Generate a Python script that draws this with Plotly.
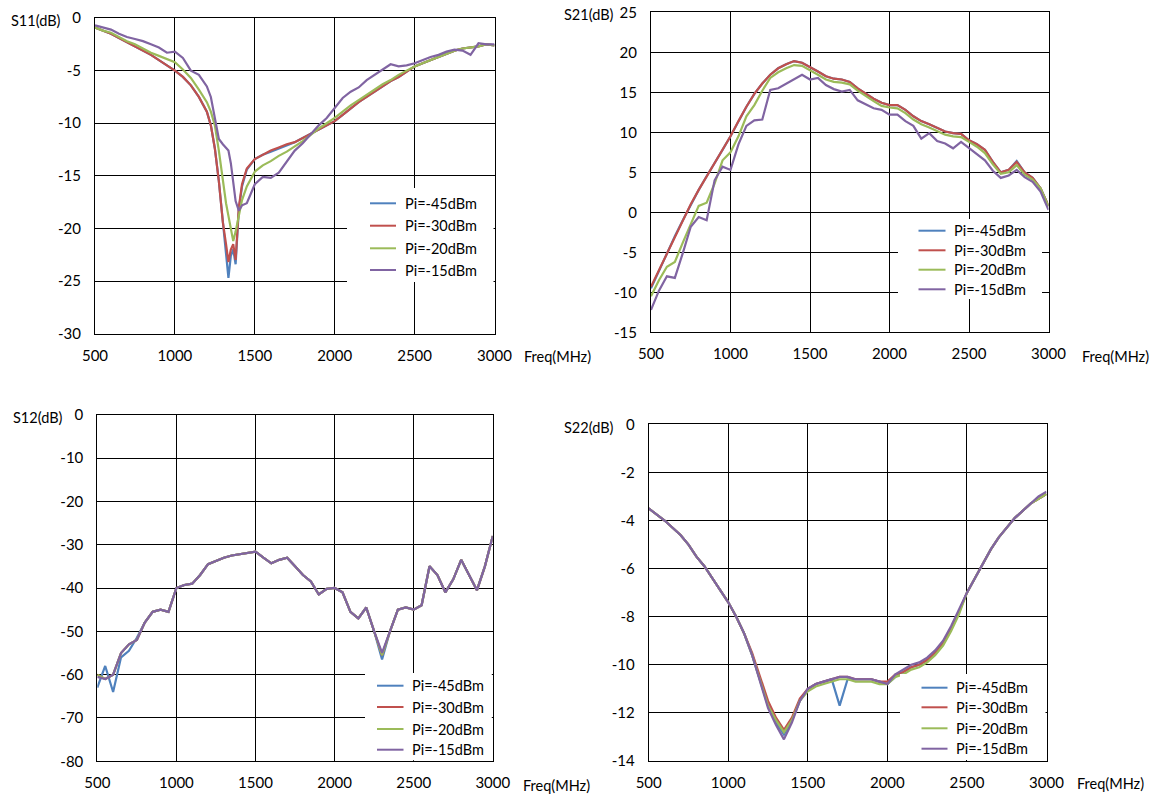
import plotly.graph_objects as go

W, H = 1156, 798
FONT = "Lato"

SERIES = ["Pi=-45dBm", "Pi=-30dBm", "Pi=-20dBm", "Pi=-15dBm"]
COLORS = ["#4F81BD", "#C0504D", "#9BBB59", "#8064A2"]

# ---------------- S11 ----------------
S11_FREQ = [500, 550, 600, 650, 700, 750, 800, 850, 900, 950,
            1000, 1050, 1100, 1150, 1200, 1225, 1250, 1275, 1300, 1320,
            1335, 1350, 1365, 1380, 1400, 1420, 1450, 1500, 1550, 1600,
            1650, 1700, 1750, 1800, 1850, 1900, 1950, 2000, 2050, 2100,
            2150, 2200, 2250, 2300, 2350, 2400, 2450, 2500, 2550, 2600,
            2650, 2700, 2750, 2800, 2850, 2900, 2950, 3000]
S11_P45 = [-0.9, -1.2, -1.5, -1.9, -2.3, -2.7, -3.1, -3.5, -4.0, -4.5,
           -5.0, -5.6, -6.4, -7.5, -8.9, -10.2, -12.4, -15.5, -19.4, -22.2,
           -24.7, -22.6, -22.0, -23.4, -18.2, -16.0, -14.4, -13.4, -13.0, -12.7,
           -12.4, -12.1, -11.8, -11.4, -11.0, -10.6, -10.2, -9.8, -9.2, -8.6,
           -8.0, -7.5, -7.0, -6.5, -6.0, -5.6, -5.1, -4.6, -4.3, -4.0,
           -3.7, -3.4, -3.1, -2.9, -2.8, -2.7, -2.5, -2.6]
S11_P30 = [-0.9, -1.2, -1.5, -1.9, -2.3, -2.7, -3.1, -3.5, -4.0, -4.5,
           -5.0, -5.6, -6.4, -7.5, -8.9, -10.2, -12.4, -15.5, -19.4, -21.5,
           -23.2, -22.0, -21.5, -23.0, -18.0, -15.8, -14.3, -13.4, -13.0, -12.6,
           -12.3, -12.0, -11.8, -11.4, -11.0, -10.6, -10.2, -9.8, -9.2, -8.6,
           -8.0, -7.5, -7.0, -6.5, -6.0, -5.6, -5.1, -4.6, -4.3, -4.0,
           -3.7, -3.4, -3.1, -2.9, -2.8, -2.7, -2.5, -2.6]
S11_P20 = [-0.9, -1.2, -1.4, -1.8, -2.2, -2.5, -2.9, -3.3, -3.6, -3.9,
           -4.2, -4.9, -5.7, -6.8, -8.0, -8.9, -10.2, -12.6, -15.5, -17.6,
           -18.8, -20.0, -21.2, -20.3, -18.6, -17.3, -16.0, -14.6, -14.0, -13.6,
           -13.1, -12.7, -12.2, -11.7, -11.1, -10.5, -10.0, -9.5, -8.9, -8.3,
           -7.8, -7.3, -6.8, -6.3, -5.9, -5.4, -5.0, -4.6, -4.3, -4.0,
           -3.7, -3.4, -3.1, -2.9, -2.8, -2.7, -2.5, -2.6]
S11_P15 = [-0.7, -0.9, -1.1, -1.5, -1.8, -2.0, -2.2, -2.5, -2.8, -3.3,
           -3.2, -3.8, -5.0, -5.4, -6.5, -7.5, -9.6, -11.5, -12.0, -12.3,
           -12.6, -13.8, -15.5, -17.4, -18.3, -17.8, -17.6, -15.8, -15.1, -15.2,
           -14.7, -13.6, -12.6, -11.9, -11.0, -10.2, -9.5, -8.6, -7.6, -7.0,
           -6.6, -5.9, -5.4, -4.9, -4.4, -4.6, -4.5, -4.3, -4.0, -3.7,
           -3.5, -3.2, -3.0, -3.1, -3.5, -2.4, -2.5, -2.5]

# ---------------- S21 ----------------
S21_FREQ = list(range(500, 3001, 50))
S21_P45 = [-9.5, -7.3, -5.1, -3.0, -1.0, 1.0, 2.8, 4.5, 6.1, 7.8,
           9.5, 11.4, 13.2, 14.8, 16.1, 17.2, 18.0, 18.5, 18.9, 18.7,
           18.2, 17.6, 17.0, 16.7, 16.6, 16.3, 15.5, 14.8, 14.2, 13.7,
           13.4, 13.4, 12.8, 12.0, 11.4, 11.0, 10.6, 10.1, 9.9, 9.8,
           9.0, 8.5, 7.8, 6.3, 5.0, 5.3, 6.4, 5.0, 4.3, 3.0,
           0.8]
S21_P30 = [-9.3, -7.2, -5.1, -3.0, -1.0, 1.0, 2.8, 4.5, 6.1, 7.8,
           9.5, 11.4, 13.2, 14.8, 16.1, 17.2, 18.0, 18.5, 18.9, 18.7,
           18.2, 17.6, 17.0, 16.7, 16.6, 16.3, 15.5, 14.8, 14.2, 13.7,
           13.4, 13.4, 12.8, 12.0, 11.4, 11.0, 10.6, 10.1, 9.9, 9.8,
           9.0, 8.5, 7.8, 6.3, 5.0, 5.3, 6.3, 5.0, 4.3, 3.0,
           0.8]
S21_P20 = [-10.5, -8.5, -6.8, -6.2, -3.8, -1.5, 0.8, 1.2, 3.6, 6.5,
           7.5, 9.5, 12.0, 13.4, 15.2, 16.8, 17.5, 18.0, 18.4, 18.3,
           17.8, 17.2, 16.6, 16.3, 16.2, 16.0, 15.2, 14.5, 13.9, 13.3,
           13.1, 13.0, 12.4, 11.6, 11.0, 10.6, 10.2, 9.7, 9.5, 9.4,
           8.8, 8.2, 7.4, 6.0, 4.8, 5.0, 5.9, 4.7, 4.1, 3.0,
           0.7]
S21_P15 = [-12.2, -9.8, -8.0, -8.2, -5.1, -1.8, -0.6, -1.0, 4.0, 5.7,
           5.3, 8.5, 10.8, 11.5, 11.6, 15.3, 15.5, 16.1, 16.7, 17.2,
           16.6, 16.8, 15.9, 15.4, 15.1, 15.3, 14.0, 13.5, 13.0, 12.8,
           12.2, 12.2, 11.4, 10.8, 9.2, 9.9, 8.9, 8.6, 8.0, 8.8,
           8.0, 7.2, 6.5, 5.2, 4.3, 4.6, 5.3, 4.4, 3.8, 2.6,
           0.3]

# ---------------- S12 ----------------
S12_FREQ = list(range(500, 3001, 50))
S12_P45 = [-63.0, -58.0, -64.0, -56.0, -54.5, -51.5, -48.0, -45.5, -45.0, -45.5,
           -40.0, -39.3, -39.0, -37.0, -34.5, -33.8, -33.0, -32.5, -32.2, -31.8,
           -31.6, -33.0, -34.3, -33.5, -33.0, -35.0, -37.0, -38.5, -41.5, -40.2,
           -40.0, -41.0, -45.5, -47.0, -44.5, -50.0, -56.5, -50.0, -45.0, -44.5,
           -45.0, -44.0, -35.0, -37.0, -41.0, -38.0, -33.5, -37.0, -40.5, -35.0,
           -28.0]
S12_P30 = [-60.0, -61.0, -60.0, -55.0, -53.0, -52.0, -48.0, -45.5, -45.0, -45.5,
           -40.0, -39.3, -39.0, -37.0, -34.5, -33.8, -33.0, -32.5, -32.2, -31.8,
           -31.6, -33.0, -34.3, -33.5, -33.0, -35.0, -37.0, -38.5, -41.5, -40.2,
           -40.0, -41.0, -45.5, -47.0, -44.5, -50.0, -55.5, -50.0, -45.0, -44.5,
           -45.0, -44.0, -35.0, -37.0, -41.0, -38.0, -33.5, -37.0, -40.5, -35.0,
           -28.0]
S12_P20 = [-60.0, -61.0, -60.0, -55.0, -53.0, -52.0, -48.0, -45.5, -45.0, -45.5,
           -40.0, -39.3, -39.0, -37.0, -34.5, -33.8, -33.0, -32.5, -32.2, -31.8,
           -31.6, -33.0, -34.3, -33.5, -33.0, -35.0, -37.0, -38.5, -41.5, -40.2,
           -40.0, -41.0, -45.5, -47.0, -44.5, -50.0, -55.5, -50.0, -45.0, -44.5,
           -45.0, -44.0, -35.0, -37.0, -41.0, -38.0, -33.5, -37.0, -40.5, -35.0,
           -28.0]
S12_P15 = [-60.5, -61.0, -60.0, -55.0, -53.0, -52.0, -48.0, -45.5, -45.0, -45.5,
           -40.0, -39.3, -39.0, -37.0, -34.5, -33.8, -33.0, -32.5, -32.2, -31.8,
           -31.6, -33.0, -34.3, -33.5, -33.0, -35.0, -37.0, -38.5, -41.5, -40.2,
           -40.0, -41.0, -45.5, -47.0, -44.5, -50.0, -55.0, -50.0, -45.0, -44.5,
           -45.0, -44.0, -35.0, -37.0, -41.0, -38.0, -33.5, -37.0, -40.5, -35.0,
           -28.0]

# ---------------- S22 ----------------
S22_FREQ = list(range(500, 3001, 50))
S22_P45 = [-3.5, -3.75, -4.0, -4.3, -4.6, -5.0, -5.5, -5.9, -6.4, -6.9,
           -7.4, -8.0, -8.7, -9.6, -10.7, -11.7, -12.4, -12.9, -12.3, -11.5,
           -11.0, -10.8, -10.7, -10.6, -11.7, -10.6, -10.6, -10.6, -10.6, -10.7,
           -10.8, -10.5, -10.3, -10.1, -10.0, -9.8, -9.5, -9.1, -8.5, -7.8,
           -7.0, -6.4, -5.8, -5.2, -4.7, -4.3, -3.9, -3.6, -3.3, -3.1,
           -2.9]
S22_P30 = [-3.5, -3.75, -4.0, -4.3, -4.6, -5.0, -5.5, -5.9, -6.4, -6.9,
           -7.4, -8.0, -8.7, -9.5, -10.5, -11.5, -12.2, -12.7, -12.2, -11.4,
           -11.0, -10.8, -10.7, -10.6, -10.5, -10.5, -10.6, -10.6, -10.6, -10.7,
           -10.7, -10.4, -10.3, -10.1, -10.0, -9.8, -9.5, -9.1, -8.5, -7.8,
           -7.0, -6.4, -5.8, -5.2, -4.7, -4.3, -3.9, -3.6, -3.3, -3.1,
           -2.9]
S22_P20 = [-3.5, -3.75, -4.0, -4.3, -4.6, -5.0, -5.5, -5.9, -6.4, -6.9,
           -7.4, -8.0, -8.7, -9.6, -10.7, -11.7, -12.3, -12.8, -12.3, -11.5,
           -11.1, -10.9, -10.8, -10.7, -10.6, -10.6, -10.7, -10.7, -10.7, -10.8,
           -10.8, -10.5, -10.4, -10.2, -10.1, -9.9, -9.6, -9.2, -8.6, -7.9,
           -7.0, -6.4, -5.8, -5.2, -4.7, -4.3, -3.9, -3.6, -3.3, -3.1,
           -2.9]
S22_P15 = [-3.5, -3.75, -4.0, -4.3, -4.6, -5.0, -5.5, -5.9, -6.4, -6.9,
           -7.4, -8.0, -8.7, -9.6, -10.7, -11.8, -12.5, -13.1, -12.4, -11.5,
           -11.0, -10.8, -10.7, -10.6, -10.5, -10.5, -10.6, -10.6, -10.6, -10.7,
           -10.8, -10.4, -10.2, -10.0, -9.9, -9.7, -9.4, -9.0, -8.4, -7.7,
           -7.0, -6.4, -5.8, -5.2, -4.7, -4.3, -3.9, -3.6, -3.3, -3.0,
           -2.8]

X_TICKS = [500, 1000, 1500, 2000, 2500, 3000]
S11_YTICKS = [0, -5, -10, -15, -20, -25, -30]
S21_YTICKS = [25, 20, 15, 10, 5, 0, -5, -10, -15]
S12_YTICKS = [0, -10, -20, -30, -40, -50, -60, -70, -80]
S22_YTICKS = [0, -2, -4, -6, -8, -10, -12, -14]

# panel geometry in pixels:
#   box    = plot area (left, right, top, bottom)
#   legbox = white legend background (left, right, top, bottom)
#   keyx   = legend key line (start, end) and text start
#   rows   = legend row centres
PANELS = [
    dict(name="S11(dB)", freq=S11_FREQ, data=[S11_P45, S11_P30, S11_P20, S11_P15],
         yticks=S11_YTICKS, box=(95, 494.5, 18, 333.7),
         legbox=(347, 493.5, 188, 282), keyx=(370, 396, 403),
         rows=(203.3, 225.7, 248.3, 270), ylab=(35.5, 20), flab=(557.5, 356)),
    dict(name="S21(dB)", freq=S21_FREQ, data=[S21_P45, S21_P30, S21_P20, S21_P15],
         yticks=S21_YTICKS, box=(651, 1048.5, 12.3, 332.3),
         legbox=(898, 1042, 219, 299), keyx=(918.5, 945.5, 951.5),
         rows=(230.7, 250.3, 269.7, 289.3), ylab=(589, 14), flab=(1115, 356)),
    dict(name="S12(dB)", freq=S12_FREQ, data=[S12_P45, S12_P30, S12_P20, S12_P15],
         yticks=S12_YTICKS, box=(97.3, 492.8, 414.7, 761.3),
         legbox=(365, 491.8, 673, 760.3), keyx=(377, 403.5, 409.5),
         rows=(685.7, 707, 729, 749.7), ylab=(38.5, 417), flab=(556, 785)),
    dict(name="S22(dB)", freq=S22_FREQ, data=[S22_P45, S22_P30, S22_P20, S22_P15],
         yticks=S22_YTICKS, box=(648.7, 1046.5, 424.3, 761),
         legbox=(900, 1045.5, 674, 760), keyx=(921.5, 947.5, 953.5),
         rows=(687.7, 707.3, 728.3, 748.7), ylab=(589, 427), flab=(1110.5, 783)),
]

fig = go.Figure()
annotations = []
shapes = []
layout = dict(width=W, height=H, margin=dict(l=0, r=0, t=0, b=0),
              paper_bgcolor="white", plot_bgcolor="white",
              font=dict(family=FONT, color="black"), showlegend=False)


def px(x):
    return x / W


def py(y):
    return 1 - y / H


for i, p in enumerate(PANELS):
    k = "" if i == 0 else str(i + 1)
    for name, color, vals in zip(SERIES, COLORS, p["data"]):
        fig.add_trace(go.Scatter(
            x=p["freq"], y=vals, mode="lines", name=name,
            line=dict(color=color, width=2.2),
            xaxis="x" + k, yaxis="y" + k))
    l, r, t, b = p["box"]
    axis_common = dict(showgrid=True, gridcolor="black", gridwidth=1,
                       showline=True, linecolor="black", linewidth=1, mirror=True,
                       zeroline=False, ticks="", tickfont=dict(family=FONT, size=15),
                       automargin=False)
    layout["xaxis" + k] = dict(axis_common, domain=[px(l), px(r)], anchor="y" + k,
                               range=[500, 3000], tickvals=X_TICKS,
                               ticktext=[str(v) for v in X_TICKS],
                               ticklabelstandoff=8)
    yt = p["yticks"]
    layout["yaxis" + k] = dict(axis_common, domain=[py(b), py(t)], anchor="x" + k,
                               range=[min(yt), max(yt)], tickvals=yt,
                               ticktext=[str(v) for v in yt],
                               ticklabelstandoff=10)

    # legend: white panel hiding the grid, then key lines and labels on top
    bl, br, bt, bb = p["legbox"]
    shapes.append(dict(type="rect", xref="paper", yref="paper", layer="above",
                       x0=px(bl), x1=px(br), y0=py(bb), y1=py(bt),
                       fillcolor="white", line=dict(width=0)))
    k0, k1, kt = p["keyx"]
    for name, color, ry in zip(SERIES, COLORS, p["rows"]):
        shapes.append(dict(type="line", xref="paper", yref="paper", layer="above",
                           x0=px(k0), x1=px(k1), y0=py(ry), y1=py(ry),
                           line=dict(color=color, width=2)))
        annotations.append(dict(text=name, x=px(kt), y=py(ry),
                                xref="paper", yref="paper", showarrow=False,
                                xanchor="left", yanchor="middle",
                                font=dict(family=FONT, size=14.5)))

    annotations.append(dict(text=p["name"], x=px(p["ylab"][0]), y=py(p["ylab"][1]),
                            xref="paper", yref="paper", showarrow=False,
                            xanchor="center", yanchor="middle",
                            font=dict(family=FONT, size=14.5)))
    annotations.append(dict(text="Freq(MHz)", x=px(p["flab"][0]), y=py(p["flab"][1]),
                            xref="paper", yref="paper", showarrow=False,
                            xanchor="center", yanchor="middle",
                            font=dict(family=FONT, size=14.5)))

layout["annotations"] = annotations
layout["shapes"] = shapes
fig.update_layout(**layout)
fig.write_html("out.html")
